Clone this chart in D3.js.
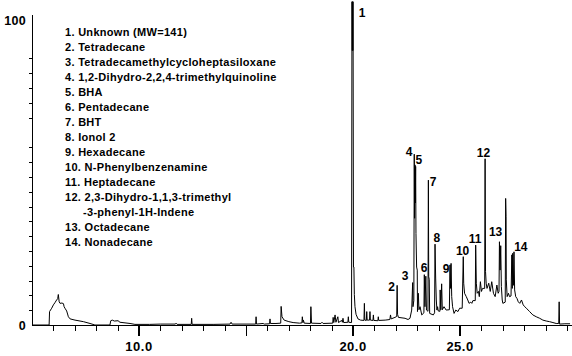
<!DOCTYPE html>
<html><head><meta charset="utf-8">
<script src="https://cdn.jsdelivr.net/npm/d3@7"></script>
<style>
body{margin:0;background:#fff;}
svg{display:block;}
text{font-family:"Liberation Sans",Arial,sans-serif;font-weight:bold;fill:#000;}
</style></head>
<body><svg id="c" width="572" height="356"></svg>
<script>
// Retention time (min) and abundance (% of full scale)
const retentionTime = [5.00,5.80,5.82,5.92,6.00,6.07,6.15,6.20,6.23,6.27,6.31,6.40,6.47,6.50,6.54,6.62,6.70,6.78,7.01,7.40,7.71,7.94,
8.64,8.68,8.75,8.85,9.02,9.11,9.58,9.81,10.5,11.0,11.7,11.73,11.78,12.44,12.46,12.48,13.5,14.25,14.30,14.35,15.0,15.45,15.47,15.49,
15.80,15.85,16.10,16.12,16.14,16.40,16.62,16.64,16.68,16.78,17.00,17.20,17.50,17.61,17.63,17.66,17.68,17.72,18.01,18.03,18.06,
18.50,18.55,18.60,19.05,19.07,19.10,19.16,19.20,19.29,19.32,19.47,19.50,19.53,19.56,19.76,19.78,19.80,19.93,
19.95,19.965,19.975,19.99,20.00,20.02,20.04,20.06,20.09,20.14,20.23,20.35,20.51,20.53,20.55,20.62,20.64,20.66,20.77,20.79,20.81,
20.93,20.95,20.97,21.16,21.18,21.20,21.50,21.72,21.75,21.78,21.96,22.04,22.06,22.08,22.12,22.43,22.57,22.66,22.74,22.785,22.80,
22.84,22.86,22.875,22.895,22.91,22.925,22.94,22.97,23.00,23.01,23.05,23.08,23.13,23.21,23.31,23.33,23.36,23.40,23.43,23.50,23.52,
23.535,23.56,23.58,23.75,23.81,23.83,23.86,23.89,23.92,23.95,23.98,24.06,24.07,24.10,24.14,24.17,24.25,24.35,24.50,24.53,24.55,
24.58,24.61,24.65,24.72,24.80,24.90,24.98,25.10,25.15,25.17,25.21,25.29,25.36,25.42,25.50,25.55,25.60,25.71,25.73,25.76,25.80,
25.86,25.90,25.95,26.00,26.05,26.15,26.17,26.19,26.22,26.26,26.34,26.41,26.48,26.56,26.64,26.72,26.78,26.82,26.84,26.87,26.90,
26.93,26.97,27.00,27.11,27.13,27.15,27.16,27.20,27.26,27.31,27.38,27.42,27.44,27.46,27.49,27.52,27.55,27.60,27.66,27.72,27.79,
27.87,27.95,28.02,28.10,28.18,28.25,28.40,28.56,28.72,28.87,29.03,29.18,29.34,29.49,29.61,29.63,29.65,29.90,30.14];
const abundance = [0,0,4.4,5.5,6.6,7.3,8.2,8.6,10.0,7.6,7.1,7.2,7.0,6.0,5.5,4.6,2.7,2.0,1.6,1.1,0.5,0,
0,1.4,1.6,1.3,1.4,0.9,0.5,0.2,0.2,0.3,0.3,0.6,0.2,0.2,2.2,0.2,0.2,0.3,0.9,0.3,0.3,0.3,2.7,0.3,
0.5,0.3,0.4,2.0,0.5,0.5,0.6,6.1,2.7,1.6,1.1,0.8,0.6,0.7,2.7,0.8,1.6,0.6,0.5,6.0,0.6,
0.5,0.9,0.5,0.6,2.5,0.8,3.3,0.9,2.7,0.8,1.5,0.9,2.2,0.8,0.9,2.7,0.9,0.8,
106,90,106,90,106,19,19,10,6,3.5,2.0,1.6,1.5,7.1,1.6,1.5,4.4,1.6,1.6,4.4,1.6,
1.5,3.3,1.5,1.4,2.7,1.5,1.6,1.8,3.3,2.0,2.5,2.8,13,3.5,2.5,2.2,1.8,2.2,4.9,13.9,6,
8,56,35,52.5,40,52,30,19,18,4.4,10.4,5,6,3.3,4,16.5,6,16,4.9,4.5,47.5,
15.8,15,3.8,3.3,4,26.5,15.4,8.2,4.9,6,4.6,4.5,11.5,5,13.5,5,6,4.9,5,19.7,12,
20.2,9.3,6,3.8,4.9,4.4,5.5,5.5,22.4,13.7,10.4,9.3,8.2,7.1,7.5,7.1,8,8,26.2,13.7,10.4,
11,9.3,14.2,11,12,12,54.5,17.5,13.7,12,13.7,11,14.2,10.4,9.3,13.1,10.4,11,27.3,18,26,
12.6,8.2,7.1,7.5,41.5,35.5,14.8,9.3,10.4,9.3,9.5,23,12,23.5,13,24,11.5,9.3,8.7,7.6,7.1,
8.2,6.6,6,5.5,4.9,4.4,3.3,2.7,2.2,1.6,1.3,1.1,0.8,0.5,0.5,7.6,0.3,0.4,0.4];

// Peak number annotations (anchor in data units)
const peakNumber = ["1","2","3","4","5","6","7","8","9","10","11","12","13","14"];
const peakLabelTime = [20.42,21.80,22.43,22.62,23.08,23.32,23.74,23.91,24.35,25.12,25.70,26.09,26.66,27.84];
const peakLabelValue = [102.6,12.5,16.1,57.0,54.4,19.0,47.2,28.7,18.4,24.3,28.5,56.6,30.8,25.6];

const legendLines = ["1. Unknown (MW=141)","2. Tetradecane","3. Tetradecamethylcycloheptasiloxane",
"4. 1,2-Dihydro-2,2,4-trimethylquinoline","5. BHA","6. Pentadecane","7. BHT","8. Ionol 2","9. Hexadecane",
"10. N-Phenylbenzenamine","11. Heptadecane","12. 2,3-Dihydro-1,1,3-trimethyl","-3-phenyl-1H-Indene",
"13. Octadecane","14. Nonadecane"];
const legendIndent = [0,0,0,0,0,0,0,0,0,0,0,0,1,0,0];

const xMinorTicks = d3.range(6, 31, 1);
const xMajorTicks = [10, 15, 20, 25];
const xTickLabelValues = [10, 20, 25];
const xTickLabels = ["10.0", "20.0", "25.0"];
const yMinorTicks = [4.85,9.7,14.55,19.4,24.25,29.1,33.95,38.8,43.65,48.5,53.35,58.2,68.0,72.85,77.7,82.55,87.4];
const yTickLabelValues = [0, 100];
const yTickLabels = ["0", "100"];

const svg = d3.select("#c");
const x = d3.scaleLinear().domain([5, 30.23]).range([32, 572]);
const y = d3.scaleLinear().domain([0, 100]).range([325, 20]);

// axes
const gx = svg.append("g").attr("transform", "translate(0,325)")
  .call(d3.axisBottom(x).tickValues(xMinorTicks).tickSize(6).tickSizeOuter(0).tickFormat(""));
gx.select(".domain").attr("stroke", "#000").attr("shape-rendering", "crispEdges");
gx.selectAll(".tick line").attr("stroke", "#000").attr("shape-rendering", "crispEdges");
svg.append("g").selectAll("line").data(xMajorTicks).join("line")
  .attr("x1", d => x(d)).attr("x2", d => x(d)).attr("y1", 325).attr("y2", 336)
  .attr("stroke", "#000").attr("stroke-width", d => d === 15 ? 1 : 2).attr("shape-rendering", "crispEdges");
svg.append("g").selectAll("text").data(xTickLabelValues).join("text")
  .attr("x", d => x(d)).attr("y", 351).attr("text-anchor", "middle")
  .style("font-size", "13px").style("letter-spacing", "0.5px")
  .text((d, i) => xTickLabels[i]);

const gy = svg.append("g").attr("transform", "translate(32,0)")
  .call(d3.axisLeft(y).tickValues(yMinorTicks).tickSize(3).tickSizeOuter(0).tickFormat(""));
gy.select(".domain").attr("d", "M0.5," + (y(100) - 5) + "V325.5").attr("stroke", "#000").attr("shape-rendering", "crispEdges");
gy.selectAll(".tick line").attr("stroke", "#000").attr("shape-rendering", "crispEdges");
svg.append("g").selectAll("text").data(yTickLabelValues).join("text")
  .attr("x", 26).attr("y", d => y(d) + 5).attr("text-anchor", "end")
  .style("font-size", "12.5px").style("letter-spacing", "0.3px")
  .text((d, i) => yTickLabels[i]);

// trace
const pts = retentionTime.map((t, i) => [t, abundance[i]]);
svg.append("path").datum(pts)
  .attr("d", d3.line().x(d => x(d[0])).y(d => Math.max(1, y(d[1]))))
  .attr("fill", "none").attr("stroke", "#000").attr("stroke-width", 1);

// peak labels
svg.append("g").selectAll("text").data(peakNumber).join("text")
  .attr("x", (d, i) => x(peakLabelTime[i])).attr("y", (d, i) => y(peakLabelValue[i]) + 4.5)
  .attr("text-anchor", "middle").style("font-size", "12px")
  .text(d => d);

// legend
svg.append("g").selectAll("text").data(legendLines).join("text")
  .attr("x", (d, i) => 65 + legendIndent[i] * 18).attr("y", (d, i) => 36 + i * 15)
  .style("font-size", "11px").style("letter-spacing", "0.3px")
  .text(d => d);
</script></body></html>
